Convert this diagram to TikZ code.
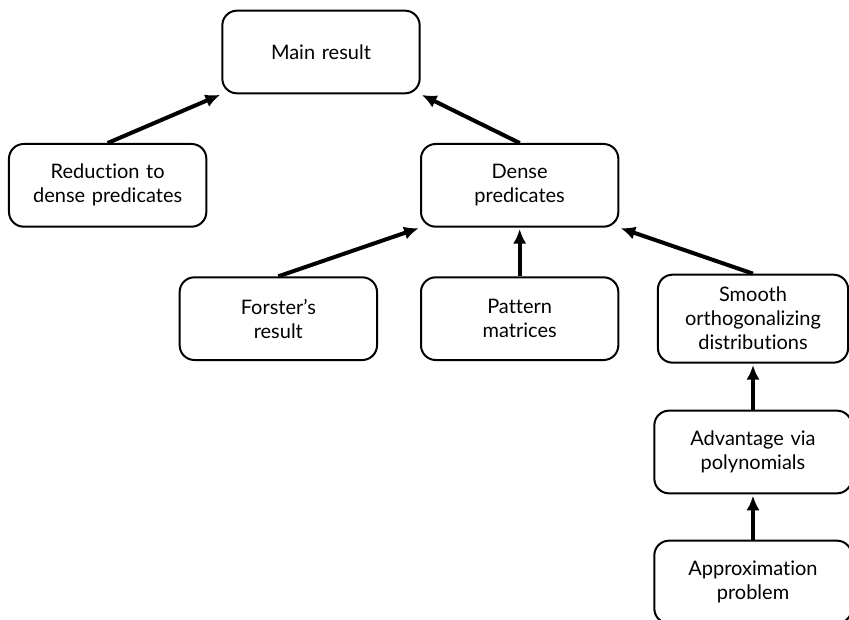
\documentclass[tikz,border=0pt]{standalone}
\usepackage{fontspec}
\setmainfont{Lato}[Ligatures=NoCommon]
\usetikzlibrary{arrows.meta}
\tikzset{
	blk/.style={rectangle, rounded corners=11pt, draw, line width=1.5pt, fill=white,
		text width=140pt, minimum width=148pt, minimum height=62pt, align=center,
		font=\fontsize{15pt}{18pt}\selectfont},
	arr/.style={->, line width=3pt, shorten >=1pt}
}
\begin{document}
\begin{tikzpicture}[>={Latex[length=11pt,width=10pt]}, node distance=100pt]
\useasboundingbox (-240.75pt,39pt) rectangle (396pt,-426pt);

%top
\node[blk] (main) {Main result};

%reduction
\node[blk, below of=main, xshift=-160pt] (reduce) {Reduction to\\dense predicates};

%dense predicates
\node[blk, below of=main, xshift=149pt] (dense) {Dense\\predicates};

%third row
\node[blk, below of=dense, xshift=-181pt] (forster) {Forster's\\result};
\node[blk, below of=dense] (pattern) {Pattern\\matrices};
\node[blk, below of=dense, xshift=175pt, text width=136pt, minimum width=142pt, minimum height=66pt] (smooth) {Smooth\\orthogonalizing\\distributions};

%right column
\node[blk, below of=smooth, xshift=0pt] (adv) {Advantage via\\polynomials};
\node[blk, below of=adv, yshift=2.5pt] (approx) {Approximation\\problem};

%Paths
\draw[arr] (reduce.north) -- (main.south west);
\draw[arr] (dense.north) -- (main.south east);

\draw[arr] (forster.north) -- (dense.south west);
\draw[arr] (pattern) -- (dense);
\draw[arr] (smooth.north) -- (dense.south east);

\draw[arr] (adv) -- (smooth);
\draw[arr] (approx) -- (adv);

\end{tikzpicture}
\end{document}
